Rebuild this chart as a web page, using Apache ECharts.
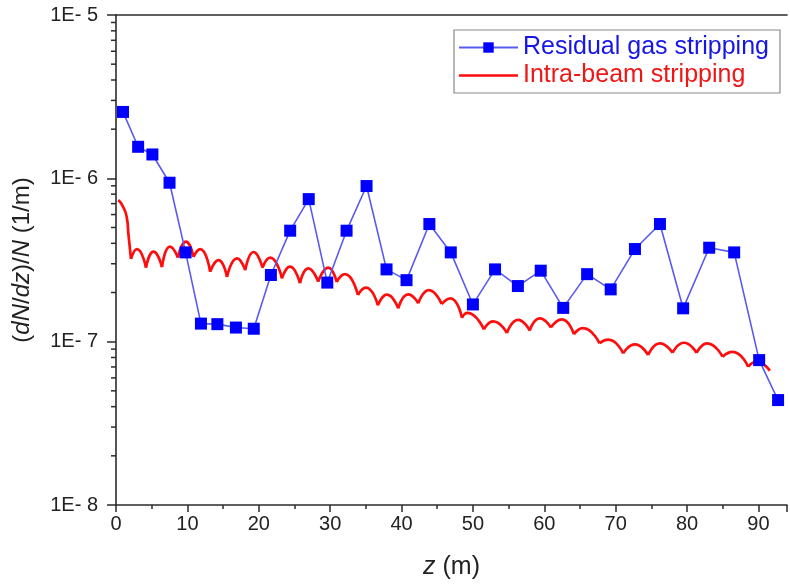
<!DOCTYPE html>
<html><head><meta charset="utf-8">
<script src="https://cdn.jsdelivr.net/npm/echarts@6/dist/echarts.min.js"></script>
<style>html,body{margin:0;padding:0;background:#fff}#c{width:790px;height:585px}</style>
</head><body><div id="c"></div>
<script>
// Residual gas stripping (blue squares)
const gasZ = [0.98,3.1,5.1,7.5,9.75,11.9,14.2,16.8,19.3,21.7,24.4,27.0,29.6,32.3,35.1,37.9,40.7,43.9,46.9,50.0,53.1,56.3,59.5,62.65,66.0,69.3,72.7,76.2,79.45,83.1,86.6,90.1,92.75];
const gasRate = [2.55e-6,1.56e-6,1.40e-6,9.4e-7,3.52e-7,1.29e-7,1.28e-7,1.22e-7,1.20e-7,2.56e-7,4.78e-7,7.46e-7,2.30e-7,4.78e-7,8.97e-7,2.77e-7,2.38e-7,5.25e-7,3.52e-7,1.69e-7,2.77e-7,2.19e-7,2.72e-7,1.61e-7,2.59e-7,2.09e-7,3.69e-7,5.25e-7,1.60e-7,3.76e-7,3.52e-7,7.71e-8,4.39e-8];
// Intra-beam stripping (red curve): peaks and cusps
const ibsZ = [0.32,0.77,1.50,1.75,2.10,2.94,4.20,5.25,6.44,7.56,8.68,9.80,10.85,11.79,13.19,14.36,15.55,16.95,18.10,19.26,20.52,21.60,23.25,24.37,25.77,26.93,28.33,29.73,30.91,32.07,33.89,35.01,36.69,37.95,39.54,40.94,42.34,43.84,45.62,46.85,48.46,49.23,51.54,52.83,54.76,56.33,57.96,59.36,60.92,62.46,64.15,65.41,67.74,68.95,71.05,72.69,74.55,76.19,77.97,79.55,81.33,82.82,84.97,86.37,88.56,89.73,91.60];
const ibsRate = [7.36e-7,6.97e-7,5.79e-7,4.50e-7,3.21e-7,3.69e-7,2.84e-7,3.56e-7,2.86e-7,3.82e-7,3.27e-7,4.10e-7,3.31e-7,3.69e-7,2.68e-7,3.16e-7,2.49e-7,3.24e-7,2.74e-7,3.54e-7,2.84e-7,3.27e-7,2.44e-7,2.88e-7,2.28e-7,2.81e-7,2.33e-7,2.84e-7,2.32e-7,2.59e-7,1.93e-7,2.14e-7,1.67e-7,1.94e-7,1.60e-7,1.95e-7,1.72e-7,2.07e-7,1.70e-7,1.84e-7,1.40e-7,1.50e-7,1.19e-7,1.33e-7,1.13e-7,1.36e-7,1.17e-7,1.39e-7,1.22e-7,1.37e-7,1.11e-7,1.21e-7,9.77e-8,1.03e-7,8.48e-8,9.62e-8,8.28e-8,9.77e-8,8.55e-8,9.85e-8,8.55e-8,9.77e-8,8.09e-8,8.67e-8,7.02e-8,7.53e-8,6.64e-8];
const yMinorTicks = [];
[-8,-7,-6].forEach(e => { for (let m = 2; m <= 9; m++) yMinorTicks.push(m * Math.pow(10, e)); });

const GAS = 'Residual gas stripping', IBS = 'Intra-beam stripping';
const AX = '#2b2b2b';
const FONT = '"Liberation Sans", Arial, sans-serif';

// split red curve at cusps so each arch is smoothed independently
const segs = []; let cur = [[ibsZ[0], ibsRate[0]]];
for (let i = 1; i < ibsZ.length; i++) {
  cur.push([ibsZ[i], ibsRate[i]]);
  const isMin = i < ibsZ.length - 1 && ibsRate[i] < ibsRate[i-1] && ibsRate[i] < ibsRate[i+1];
  if (isMin) { segs.push(cur); cur = [[ibsZ[i], ibsRate[i]]]; }
}
segs.push(cur);

const series = [];
segs.forEach(s => series.push({
  name: IBS, type: 'line', data: s, symbol: 'none', smooth: 0.55,
  lineStyle: { color: '#ff0d0d', width: 2.7 }, itemStyle: { color: '#ff0d0d' },
  silent: true, z: 2
}));
series.push({
  name: GAS, type: 'line', data: gasZ.map((z, i) => [z, gasRate[i]]),
  symbol: 'rect', symbolSize: 12,
  lineStyle: { color: '#5a5af0', width: 1.6 }, itemStyle: { color: '#0000ff' }, z: 3
});
series.push({
  type: 'custom', silent: true, data: yMinorTicks.map(v => [0, v]),
  renderItem: (p, api) => {
    const pt = api.coord([0, api.value(1)]);
    return { type: 'line', shape: { x1: pt[0] - 5, y1: pt[1], x2: pt[0], y2: pt[1] },
      style: { stroke: AX, lineWidth: 1.5 } };
  }, clip: false, z: 5
});

const chart = echarts.init(document.getElementById('c'), null, { renderer: 'canvas' });
chart.setOption({
  animation: false,
  backgroundColor: '#fff',
  grid: { left: 116, right: 3, top: 15, bottom: 80 },
  legend: {
    orient: 'vertical', left: 454, top: 30,
    padding: [5, 11, 5, 4], itemGap: 3, itemWidth: 59, itemHeight: 13,
    borderColor: '#8a8a8a', borderWidth: 1.2, backgroundColor: '#fff',
    textStyle: { fontFamily: FONT, fontSize: 25 },
    data: [
      { name: GAS, textStyle: { color: '#1616e6' } },
      { name: IBS, icon: 'path://M0,0 H60 V2.7 H0 Z', textStyle: { color: '#f01616' } }
    ]
  },
  xAxis: [{
    type: 'value', min: 0, max: 94, interval: 10,
    axisLine: { lineStyle: { color: AX, width: 1.6 } },
    axisTick: { length: 7, lineStyle: { color: AX, width: 1.5 } },
    minorTick: { show: true, splitNumber: 2, length: 4, lineStyle: { color: AX, width: 1.5 } },
    splitLine: { show: false },
    axisLabel: { fontFamily: FONT, fontSize: 20, color: '#222', margin: 9, showMaxLabel: false,
      formatter: v => (v % 10 === 0 ? String(v) : '') },
    name: '{i|z} (m)', nameLocation: 'middle', nameGap: 50,
    nameTextStyle: { fontFamily: FONT, fontSize: 25, color: '#222', rich: { i: { fontStyle: 'italic', fontFamily: FONT, fontSize: 25, color: '#222' } } }
  }, {
    type: 'value', position: 'top', min: 0, max: 94,
    axisLine: { show: true, onZero: false, lineStyle: { color: AX, width: 1.6 } },
    axisTick: { show: false }, axisLabel: { show: false }, splitLine: { show: false }
  }],
  yAxis: {
    type: 'log', logBase: 10, min: 1e-8, max: 1e-5,
    axisLine: { show: true, lineStyle: { color: AX, width: 1.6 } },
    axisTick: { show: true, length: 9, lineStyle: { color: AX, width: 1.5 } },
    splitLine: { show: false },
    axisLabel: { fontFamily: FONT, fontSize: 20, color: '#222', margin: 18,
      formatter: v => '1E- ' + Math.abs(Math.round(Math.log10(v))) },
    name: '({i|dN}/{i|dz})/{i|N} (1/m)', nameLocation: 'middle', nameGap: 82, nameRotate: 90,
    nameTextStyle: { fontFamily: FONT, fontSize: 24, color: '#222', rich: { i: { fontStyle: 'italic', fontFamily: FONT, fontSize: 24, color: '#222' } } }
  },
  series: series
});
</script>
</body></html>
